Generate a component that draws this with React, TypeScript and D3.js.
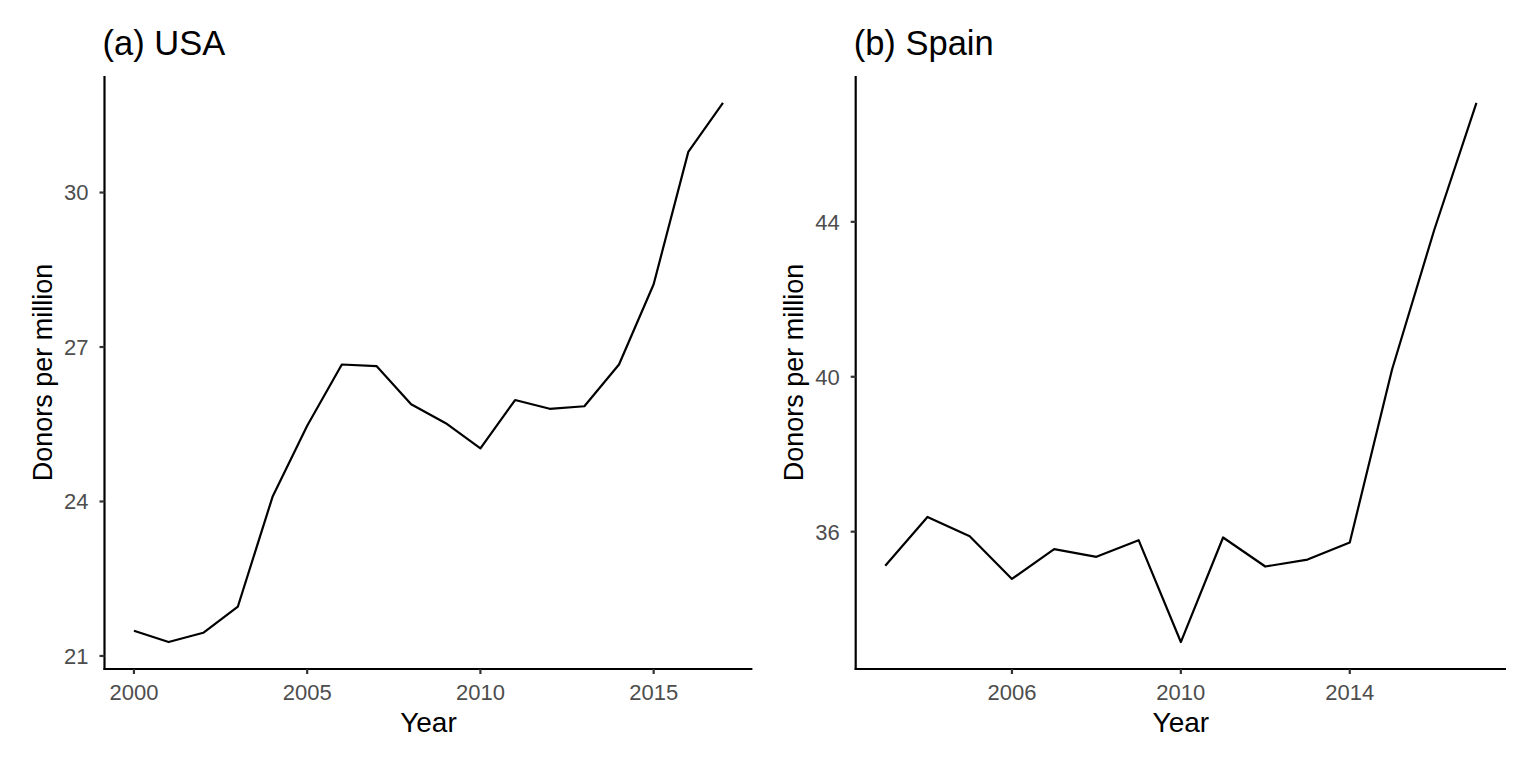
import React from "react";
import * as d3 from "d3";

const usaYears = [2000, 2001, 2002, 2003, 2004, 2005, 2006, 2007, 2008, 2009, 2010, 2011, 2012, 2013, 2014, 2015, 2016, 2017];
const usaValues = [21.49, 21.27, 21.45, 21.96, 24.09, 25.47, 26.66, 26.63, 25.89, 25.52, 25.03, 25.97, 25.8, 25.85, 26.66, 28.22, 30.79, 31.74];
const usaYTicks = [21, 24, 27, 30];
const usaXTicks = [2000, 2005, 2010, 2015];

const spainYears = [2003, 2004, 2005, 2006, 2007, 2008, 2009, 2010, 2011, 2012, 2013, 2014, 2015, 2016, 2017];
const spainValues = [35.12, 36.38, 35.88, 34.78, 35.55, 35.35, 35.78, 33.15, 35.85, 35.1, 35.28, 35.72, 40.18, 43.79, 47.07];
const spainYTicks = [36, 40, 44];
const spainXTicks = [2006, 2010, 2014];

const FONT = "'Liberation Sans', Arial, Helvetica, sans-serif";

function expand(ext: [number, number], f = 0.05): [number, number] {
  const r = ext[1] - ext[0];
  return [ext[0] - r * f, ext[1] + r * f];
}

type PanelProps = {
  title: string;
  years: number[];
  values: number[];
  xTicks: number[];
  yTicks: number[];
  left: number;
  right: number;
  top: number;
  bottom: number;
};

function Panel({ title, years, values, xTicks, yTicks, left, right, top, bottom }: PanelProps) {
  const x = d3.scaleLinear().domain(expand(d3.extent(years) as [number, number])).range([left, right]);
  const y = d3.scaleLinear().domain(expand(d3.extent(values) as [number, number])).range([bottom, top]);
  const line = d3
    .line<number>()
    .x((_, i) => x(years[i]))
    .y((d) => y(d));
  const tickLen = 5;
  return (
    <g>
      <text x={left - 2} y={55} fontSize={34.5} fontFamily={FONT} fill="#000">
        {title}
      </text>
      <path d={line(values) || ""} fill="none" stroke="#000" strokeWidth={2.2} strokeLinejoin="round" />
      <line x1={left} x2={left} y1={top} y2={bottom + 1} stroke="#000" strokeWidth={2.2} />
      <line x1={left - 1} x2={right} y1={bottom} y2={bottom} stroke="#000" strokeWidth={2.2} />
      {yTicks.map((t) => (
        <g key={"y" + t}>
          <line x1={left - tickLen} x2={left} y1={y(t)} y2={y(t)} stroke="#333" strokeWidth={2.2} />
          <text x={left - 16} y={y(t)} dy="0.36em" textAnchor="end" fontSize={22} fontFamily={FONT} fill="#4d4d4d">
            {t}
          </text>
        </g>
      ))}
      {xTicks.map((t) => (
        <g key={"x" + t}>
          <line x1={x(t)} x2={x(t)} y1={bottom} y2={bottom + tickLen} stroke="#333" strokeWidth={2.2} />
          <text x={x(t)} y={700} textAnchor="middle" fontSize={22} fontFamily={FONT} fill="#4d4d4d">
            {t}
          </text>
        </g>
      ))}
      <text x={(left + right) / 2} y={732} textAnchor="middle" fontSize={28} fontFamily={FONT} fill="#000">
        Year
      </text>
      <text
        transform={`translate(${left - 53},${(top + bottom) / 2}) rotate(-90)`}
        textAnchor="middle"
        fontSize={27}
        fontFamily={FONT}
        fill="#000"
      >
        Donors per million
      </text>
    </g>
  );
}

export default function App() {
  return (
    <svg width={1536} height={768} style={{ position: "absolute", left: 0, top: 0, background: "#fff" }}>
      <rect width={1536} height={768} fill="#fff" />
      <Panel
        title="(a) USA"
        years={usaYears}
        values={usaValues}
        xTicks={usaXTicks}
        yTicks={usaYTicks}
        left={104.5}
        right={752.4}
        top={76}
        bottom={669}
      />
      <Panel
        title="(b) Spain"
        years={spainYears}
        values={spainValues}
        xTicks={spainXTicks}
        yTicks={spainYTicks}
        left={855.7}
        right={1506}
        top={76}
        bottom={669}
      />
    </svg>
  );
}
